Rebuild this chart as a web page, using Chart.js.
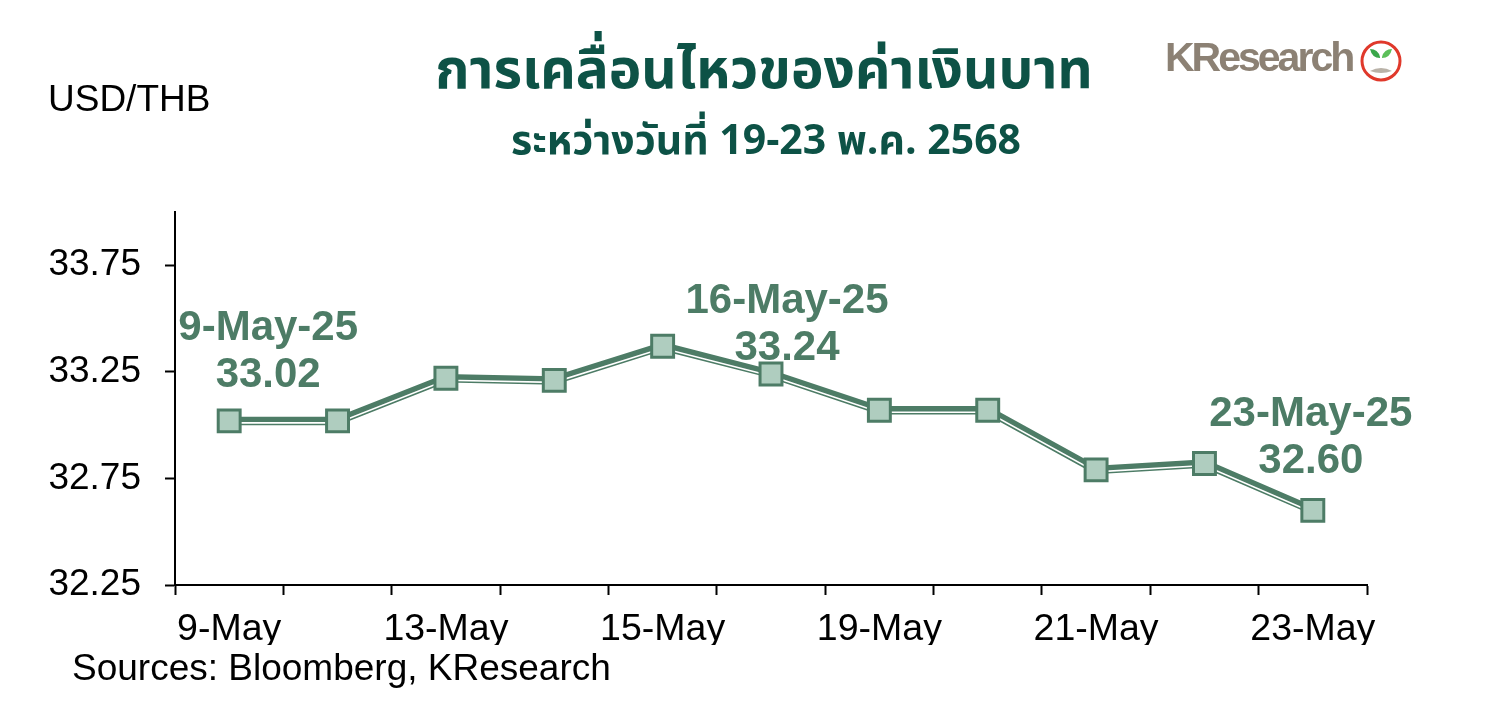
<!DOCTYPE html>
<html>
<head>
<meta charset="utf-8">
<script src="https://cdn.jsdelivr.net/npm/chart.js@4.4.1/dist/chart.umd.min.js"></script>
<style>
  html, body { margin: 0; padding: 0; background: #fff; }
  #wrap { position: relative; width: 1511px; height: 720px; overflow: hidden; font-family: "Liberation Sans", Arial, sans-serif; }
  #myChart { position: absolute; left: 0; top: 0; }
  .t { position: absolute; white-space: nowrap; }
  #title { left: 0; width: 1528px; text-align: center; top: 30px; font-size: 55px; font-weight: bold; color: #0d5246;
           font-family: "Noto Sans Thai", "Noto Sans Thai Looped", Loma, Garuda, "Tlwg Typo", sans-serif; }
  #subtitle { left: 0; width: 1532px; text-align: center; top: 110px; font-size: 41px; font-weight: bold; color: #0d5246;
           font-family: "Noto Sans Thai", "Noto Sans Thai Looped", Loma, Garuda, "Tlwg Typo", sans-serif; }
  #unit { left: 48px; top: 78px; font-size: 37px; color: #000; }
  #src { left: 72px; top: 647px; font-size: 37px; color: #000; }
  #logo { left: 1165px; top: 34px; font-size: 41px; font-weight: bold; color: #8c8174; letter-spacing: -3px; }
  #icon { position: absolute; left: 1358px; top: 38px; }
</style>
</head>
<body>
<div id="wrap">
  <canvas id="myChart" width="1511" height="720"></canvas>
  <div class="t" id="title">การเคลื่อนไหวของค่าเงินบาท</div>
  <div class="t" id="subtitle">ระหว่างวันที่ 19-23 พ.ค. 2568</div>
  <div class="t" id="unit">USD/THB</div>
  <div class="t" id="src">Sources: Bloomberg, KResearch</div>
  <div class="t" id="logo">KResearch</div>
  <svg id="icon" width="46" height="46" viewBox="0 0 46 46">
    <circle cx="23" cy="23" r="19" fill="#fff" stroke="#e0392b" stroke-width="3"/>
    <path d="M12 33 Q23 27 34 33 Q23 37 12 33 Z" fill="#b9b2a8"/>
    <path d="M22 32 L22 20 Q14 20 12 11 Q20 11 22 19 Z" fill="#3aa74a"/>
    <path d="M24 32 L24 20 Q32 20 34 11 Q26 11 24 19 Z" fill="#5cbf5a"/>
  </svg>
</div>
<script>
// dates (business days) and USD/THB close
const dates = ['9-May', '12-May', '13-May', '14-May', '15-May', '16-May', '19-May', '20-May', '21-May', '22-May', '23-May'];
const usdthb = [33.02, 33.02, 33.22, 33.21, 33.37, 33.24, 33.07, 33.07, 32.79, 32.82, 32.60];
const yTicks = [32.25, 32.75, 33.25, 33.75];

// callouts: index of point, two lines of text
const callouts = [
    { idx: 0, lines: ['9-May-25', '33.02'], dx: 39, dy: -81 },
    { idx: 5, lines: ['16-May-25', '33.24'], dx: 16, dy: -61 },
    { idx: 10, lines: ['23-May-25', '32.60'], dx: -2, dy: -84 }
];

const green = '#4d7c66';

// shift the thin white line a bit down so it looks like the double line
const shiftPlugin = {
    id: 'shift',
    beforeDatasetDraw(chart, args) {
        const ds = chart.data.datasets[args.index];
        chart.ctx.save();
        if (ds.shiftY) chart.ctx.translate(0, ds.shiftY);
    },
    afterDatasetDraw(chart) {
        chart.ctx.restore();
    }
};

const calloutPlugin = {
    id: 'callouts',
    afterDatasetsDraw(chart) {
        const ctx = chart.ctx;
        const meta = chart.getDatasetMeta(0);
        ctx.save();
        ctx.font = 'bold 42px "Liberation Sans", Arial, sans-serif';
        ctx.fillStyle = green;
        ctx.textAlign = 'center';
        ctx.textBaseline = 'alphabetic';
        callouts.forEach(c => {
            const p = meta.data[c.idx];
            ctx.fillText(c.lines[0], p.x + c.dx, p.y + c.dy);
            ctx.fillText(c.lines[1], p.x + c.dx, p.y + c.dy + 47);
        });
        ctx.restore();
    }
};

const data = {
    labels: dates,
    datasets: [{
        data: usdthb,
        showLine: false,
        pointStyle: 'rect',
        pointRadius: 15.5,
        pointBackgroundColor: '#afcdbf',
        pointBorderColor: green,
        pointBorderWidth: 3
    }, {
        data: usdthb,
        borderColor: '#ffffff',
        borderWidth: 1.6,
        pointRadius: 0,
        shiftY: 2
    }, {
        data: usdthb,
        borderColor: green,
        borderWidth: 8.5,
        pointRadius: 0
    }]
};

const config = {
    type: 'line',
    data: data,
    plugins: [shiftPlugin, calloutPlugin],
    options: {
        responsive: false,
        animation: false,
        layout: { padding: { left: 0, top: 212, right: 144, bottom: 75 } },
        plugins: { legend: { display: false }, tooltip: { enabled: false } },
        scales: {
            x: {
                offset: true,
                grid: { drawOnChartArea: false, offset: true, tickLength: 10, tickColor: '#000', tickWidth: 2 },
                border: { color: '#000', width: 2 },
                ticks: {
                    autoSkip: false,
                    maxRotation: 0,
                    color: '#000',
                    font: { size: 37.5, family: '"Liberation Sans", Arial, sans-serif' },
                    padding: 12,
                    callback: function (v, i) { return i % 2 === 0 ? dates[i] : ''; }
                },
                afterFit(scale) { scale.height = 60; }
            },
            y: {
                min: 32.25,
                max: 34.0,
                grid: { drawOnChartArea: false, tickLength: 10, tickColor: '#000', tickWidth: 2 },
                border: { color: '#000', width: 2 },
                ticks: {
                    color: '#000',
                    font: { size: 37, family: '"Liberation Sans", Arial, sans-serif' },
                    padding: 24,
                    callback: v => v.toFixed(2)
                },
                afterBuildTicks(scale) { scale.ticks = yTicks.map(v => ({ value: v })); },
                afterFit(scale) { scale.width = 175; }
            }
        }
    }
};

const myChart = new Chart(document.getElementById('myChart'), config);
</script>
</body>
</html>
